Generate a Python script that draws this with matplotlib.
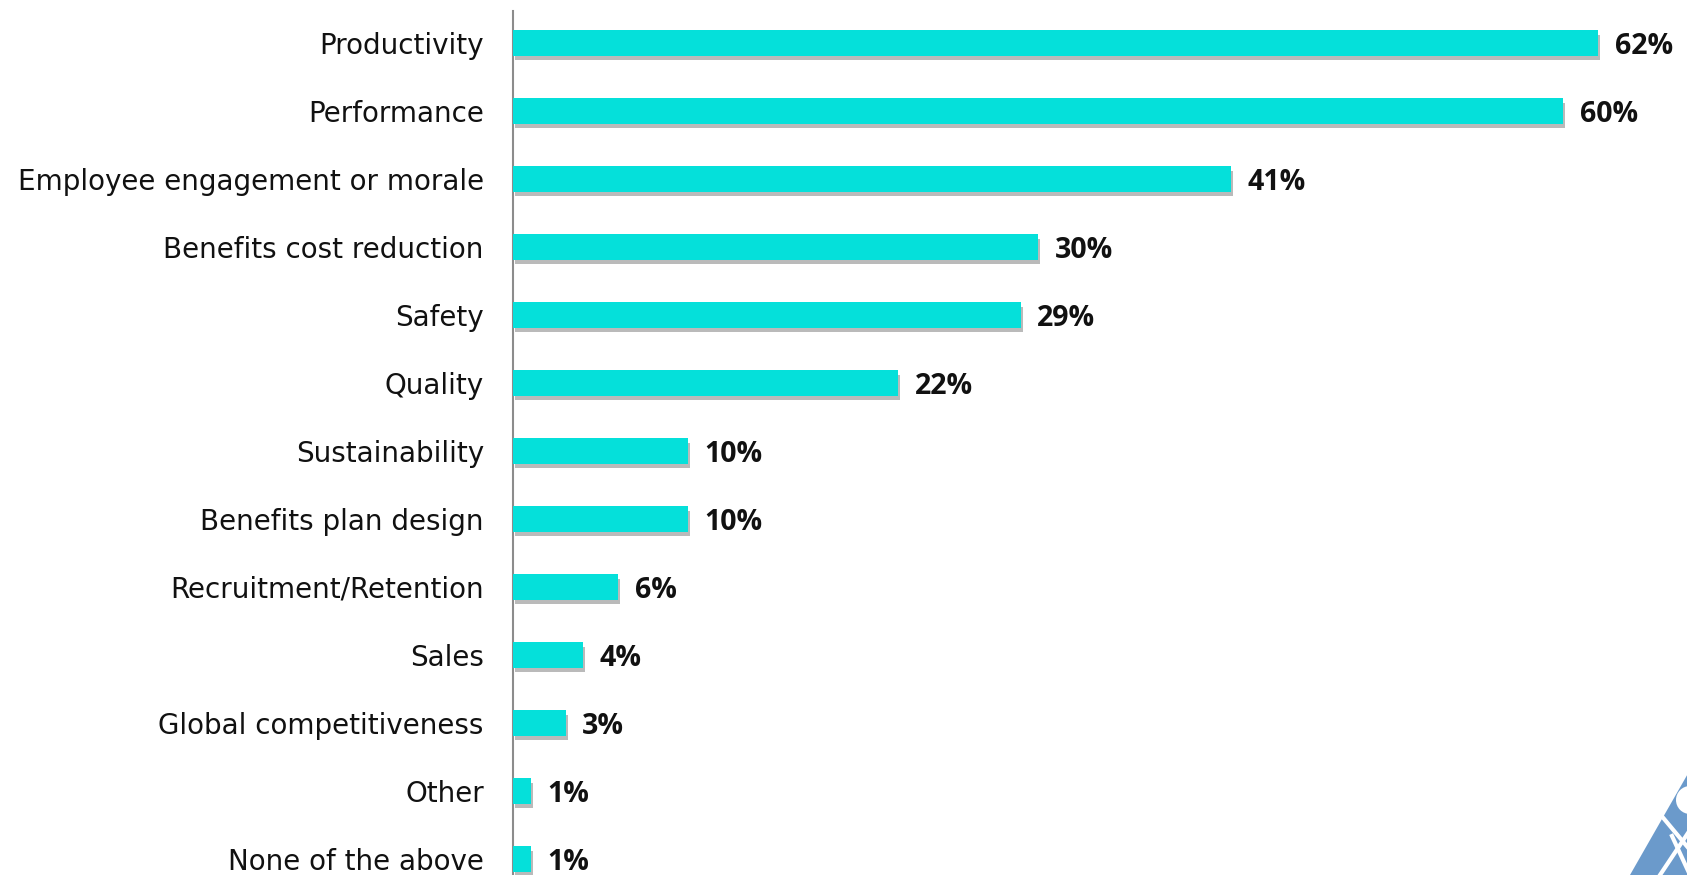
import matplotlib
matplotlib.use("Agg")
import matplotlib.pyplot as plt
import matplotlib.patheffects as pe
from matplotlib.patches import Polygon

categories = [
    "Productivity",
    "Performance",
    "Employee engagement or morale",
    "Benefits cost reduction",
    "Safety",
    "Quality",
    "Sustainability",
    "Benefits plan design",
    "Recruitment/Retention",
    "Sales",
    "Global competitiveness",
    "Other",
    "None of the above",
]
values = [62, 60, 41, 30, 29, 22, 10, 10, 6, 4, 3, 1, 1]
value_labels = [f"{v}%" for v in values]

W, H, DPI = 1687, 875, 100
fig = plt.figure(figsize=(W / DPI, H / DPI), dpi=DPI)
fig.patch.set_facecolor("white")

# axes: left edge at the vertical axis line, top a little below the figure top
ax_left, ax_right = 513, 1680
ax_top = 11
ax = fig.add_axes([ax_left / W, 0, (ax_right - ax_left) / W, (H - ax_top) / H])

px_per_pct = 17.5
xmax = (ax_right - ax_left) / px_per_pct
spacing = 68.0
first_center = 43.0
ylim_top = -(first_center - ax_top) / spacing
ylim_bottom = (len(categories) - 1) + (H - (first_center + spacing * (len(categories) - 1))) / spacing

y = list(range(len(categories)))
bars = ax.barh(
    y, values, height=0.37, color="#05e0da", edgecolor="none", zorder=3,
)
for b in bars:
    b.set_path_effects([
        pe.SimplePatchShadow(offset=(1.5, -3), shadow_rgbFace="#777777", alpha=0.5),
        pe.Normal(),
    ])

ax.set_xlim(0, xmax)
ax.set_ylim(ylim_bottom, ylim_top)

ax.set_yticks(y)
ax.set_yticklabels(categories, fontsize=20, family="DejaVu Sans", color="#111111")
ax.tick_params(axis="y", length=0, pad=21)
ax.set_xticks([])

for s in ["top", "right", "bottom"]:
    ax.spines[s].set_visible(False)
ax.spines["left"].set_color("#8c8c8c")
ax.spines["left"].set_linewidth(1.5)

for yi, v, lab in zip(y, values, value_labels):
    ax.annotate(
        lab, xy=(v, yi), xytext=(12, 0), textcoords="offset points",
        va="center_baseline", ha="left", fontsize=20.5, fontweight="bold",
        family="Open Sans", color="#111111",
    )

# corner logo fragment
logo_ax = fig.add_axes([0, 0, 1, 1], zorder=5)
logo_ax.set_xlim(0, W)
logo_ax.set_ylim(H, 0)
logo_ax.axis("off")
logo_ax.add_patch(Polygon([[1630, 875], [1690, 770], [1690, 875]],
                          closed=True, color="#6b9acb", lw=0))
logo_ax.plot([1655, 1690], [808, 850], color="white", lw=3)
logo_ax.plot([1660, 1690], [875, 830], color="white", lw=3)
logo_ax.plot([1672, 1690], [836, 875], color="white", lw=3)
logo_ax.add_patch(plt.Circle((1690, 800), 14, color="white", lw=0))

fig.savefig("out.png", dpi=DPI, facecolor="white")
